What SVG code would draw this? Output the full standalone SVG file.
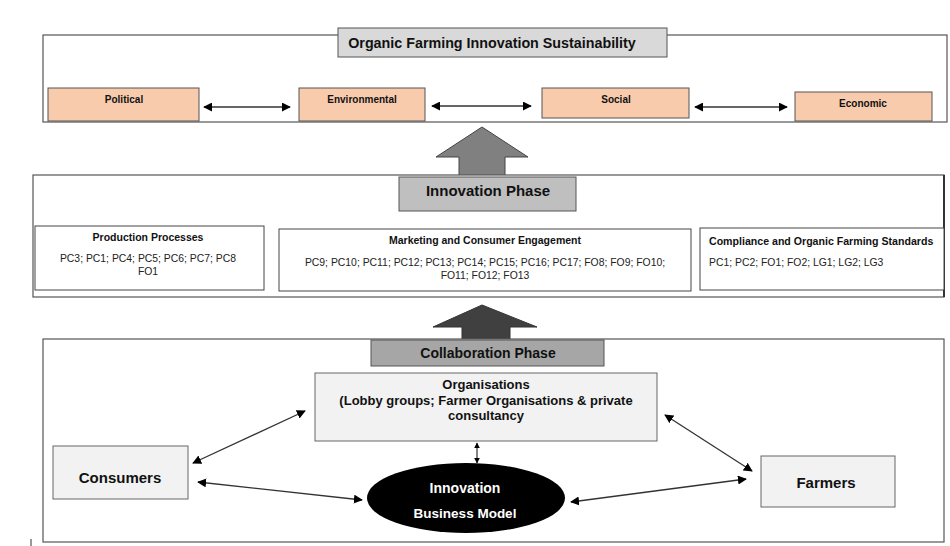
<svg xmlns="http://www.w3.org/2000/svg" width="950" height="546" viewBox="0 0 950 546">
<style>
.frame{fill:#fff;stroke:#555;stroke-width:1.2}
.pink{fill:#f8cbad;stroke:#555;stroke-width:1}
.light{fill:#f2f2f2;stroke:#666;stroke-width:1}
.sub{fill:#fff;stroke:#444;stroke-width:1}
.t{font-family:"Liberation Sans",Arial,sans-serif;font-weight:bold;text-anchor:middle;fill:#111}
.n{font-family:"Liberation Sans",Arial,sans-serif;text-anchor:middle;fill:#222;font-size:10.4px}
.c{stroke:#333;stroke-width:1.3;fill:none;marker-start:url(#ah);marker-end:url(#ah)}
.cs{stroke:#333;stroke-width:1.2;fill:none;marker-start:url(#ahs);marker-end:url(#ahs)}
</style>
<defs>
<marker id="ah" viewBox="0 0 10 10" refX="9" refY="5" markerWidth="9" markerHeight="9" orient="auto-start-reverse" markerUnits="userSpaceOnUse">
<path d="M0,0 L10,5 L0,10 z" fill="#000"/>
</marker>
<marker id="ahs" viewBox="0 0 10 10" refX="9" refY="5" markerWidth="6" markerHeight="6" orient="auto-start-reverse" markerUnits="userSpaceOnUse">
<path d="M0,0 L10,5 L0,10 z" fill="#000"/>
</marker>
</defs>
<rect width="950" height="546" fill="#fff"/>

<g id="sustainability">
<rect class="frame" x="43" y="35" width="904" height="87"/>
<rect x="338" y="28" width="329" height="29" fill="#d9d9d9" stroke="#555"/>
<text class="t" x="492" y="48" font-size="14.3">Organic Farming Innovation Sustainability</text>
</g>
<g id="political"><rect class="pink" x="48" y="88" width="151" height="33"/><text class="t" x="124" y="103" font-size="10">Political</text></g>
<g id="environmental"><rect class="pink" x="299" y="88" width="126" height="33"/><text class="t" x="362" y="103" font-size="10">Environmental</text></g>
<g id="social"><rect class="pink" x="542" y="88" width="147" height="30"/><text class="t" x="616" y="103" font-size="10">Social</text></g>
<g id="economic"><rect class="pink" x="795" y="92" width="137" height="29"/><text class="t" x="863" y="107" font-size="10">Economic</text></g>

<g id="arrow-up-1">
<path d="M459,180 L459,157 L436,157 L482,127 L528,157 L505,157 L505,180 z" fill="#808080" stroke="#444" stroke-width="1"/>
</g>

<g id="innovation">
<rect class="frame" x="33" y="175" width="911" height="122"/>
<line x1="944" y1="175" x2="944" y2="297" stroke="#333" stroke-width="2"/>
<rect x="399" y="177" width="177" height="34" fill="#bfbfbf" stroke="#555"/>
<text class="t" x="488" y="196" font-size="15">Innovation Phase</text>
</g>
<g id="production">
<rect class="sub" x="35" y="226" width="229" height="64"/>
<text class="t" x="148" y="241" font-size="10.5">Production Processes</text>
<text class="n" x="148" y="262">PC3; PC1; PC4; PC5; PC6; PC7; PC8</text>
<text class="n" x="148" y="275">FO1</text>
</g>
<g id="marketing">
<rect class="sub" x="279" y="229" width="412" height="62"/>
<text class="t" x="485" y="244" font-size="10.5">Marketing and Consumer Engagement</text>
<text class="n" x="485" y="266">PC9; PC10; PC11; PC12; PC13; PC14; PC15; PC16; PC17; FO8; FO9; FO10;</text>
<text class="n" x="485" y="279">FO11; FO12; FO13</text>
</g>
<g id="compliance">
<rect class="sub" x="700" y="228" width="244" height="62"/>
<text class="t" x="709" y="245" font-size="10.6" style="text-anchor:start">Compliance and Organic Farming Standards</text>
<text class="n" x="709" y="266" style="text-anchor:start">PC1; PC2; FO1; FO2; LG1; LG2; LG3</text>
</g>

<g id="arrow-up-2">
<path d="M462,340 L462,327 L433,327 L482,305 L537,327 L510,327 L510,340 z" fill="#404040" stroke="#333" stroke-width="1"/>
</g>

<g id="collaboration">
<rect class="frame" x="43" y="339" width="901" height="203"/>
<rect x="371" y="340" width="233" height="26" fill="#a6a6a6" stroke="#555"/>
<text class="t" x="488" y="358" font-size="14">Collaboration Phase</text>
</g>
<g id="organisations">
<rect class="light" x="315" y="373" width="342" height="68"/>
<text class="t" x="486" y="389" font-size="13">Organisations</text>
<text class="t" x="486" y="405" font-size="13">(Lobby groups; Farmer Organisations &amp; private</text>
<text class="t" x="486" y="420" font-size="13">consultancy</text>
</g>
<g id="consumers">
<rect class="light" x="53" y="446" width="135" height="53"/>
<text class="t" x="120" y="483" font-size="15">Consumers</text>
</g>
<g id="farmers">
<rect class="light" x="761" y="456" width="134" height="51"/>
<text class="t" x="826" y="488" font-size="15">Farmers</text>
</g>
<g id="business-model">
<ellipse cx="466" cy="498" rx="99" ry="35" fill="#000"/>
<text class="t" x="465" y="493" font-size="14" style="fill:#fff">Innovation</text>
<text class="t" x="465" y="518" font-size="13.5" style="fill:#fff">Business Model</text>
</g>

<g id="connectors">
<line class="c" x1="204" y1="107" x2="290" y2="107"/>
<line class="c" x1="432" y1="106" x2="531" y2="106"/>
<line class="c" x1="695" y1="107" x2="787" y2="107"/>
<line class="c" x1="193" y1="463" x2="305" y2="411"/>
<line class="c" x1="665" y1="415" x2="752" y2="471"/>
<line class="cs" x1="477" y1="443" x2="477" y2="463"/>
<line class="c" x1="198" y1="482" x2="362" y2="500"/>
<line class="c" x1="746" y1="479" x2="571" y2="502"/>
</g>
<line x1="31" y1="539" x2="31" y2="546" stroke="#333" stroke-width="1"/>
</svg>
